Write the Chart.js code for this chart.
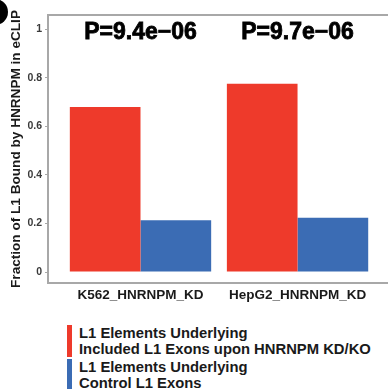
<!DOCTYPE html>
<html>
<head>
<meta charset="utf-8">
<script src="https://cdn.jsdelivr.net/npm/chart.js@4/dist/chart.umd.min.js"></script>
<style>
  html, body { margin: 0; padding: 0; background: #fff; overflow: hidden; }
  #wrap { position: relative; width: 388px; height: 389px; }
  #chart { position: absolute; left: 0; top: 0; }
  #legend { position: absolute; left: 67px; top: 325px; font: bold 14.8px "Liberation Sans", Arial, sans-serif; color: #1a1a1a; }
  .lg-item { display: flex; align-items: stretch; margin-bottom: 2px; }
  .lg-swatch { width: 5px; margin-right: 7px; }
  .lg-text { line-height: 16px; white-space: nowrap; }
</style>
</head>
<body>
<div id="wrap">
  <canvas id="chart" width="388" height="310"></canvas>
  <div id="legend"></div>
</div>
<script>
// Fraction of L1 elements bound by HNRNPM (eCLIP), two knockdowns, two exon sets.
var categories = ['K562_HNRNPM_KD', 'HepG2_HNRNPM_KD'];
var seriesNames = [
  'L1 Elements Underlying\nIncluded L1 Exons upon HNRNPM KD/KO',
  'L1 Elements Underlying\nControl L1 Exons'
];
var includedValues = [0.679, 0.775];
var controlValues = [0.213, 0.224];
var pValues = ['P=9.4e\u221206', 'P=9.7e\u221206'];
var yTickValues = [0, 0.2, 0.4, 0.6, 0.8, 1];
var yTickLabels = ['0', '0.2', '0.4', '0.6', '0.8', '1'];
var colors = ['#ee3a2b', '#3b6cb4'];

var FONT = '"Liberation Sans", Arial, sans-serif';
var AXIS_GREY = '#a8a8a8';

function toPoints(vals) {
  return vals.map(function (v, i) { return { x: i + 1, y: v }; });
}

// top border of the panel, p-value labels, and the clipped panel badge
var extras = {
  id: 'extras',
  afterDraw: function (chart) {
    var ctx = chart.ctx, a = chart.chartArea, xs = chart.scales.x;
    ctx.save();
    ctx.strokeStyle = AXIS_GREY;
    ctx.lineWidth = 2;
    ctx.beginPath();
    ctx.moveTo(a.left, a.top);
    ctx.lineTo(a.right, a.top);
    ctx.stroke();

    ctx.fillStyle = '#000';
    ctx.strokeStyle = '#000';
    ctx.lineWidth = 0.8;
    ctx.font = 'bold 23px ' + FONT;
    ctx.textAlign = 'center';
    ctx.textBaseline = 'middle';
    pValues.forEach(function (p, i) {
      var x = xs.getPixelForValue(i + 1);
      ctx.fillText(p, x, a.top + 18);
      ctx.strokeText(p, x, a.top + 18);
    });

    ctx.beginPath();
    ctx.arc(-5, 12, 13, 0, Math.PI * 2);
    ctx.fill();
    ctx.restore();
  }
};

new Chart(document.getElementById('chart'), {
  type: 'bar',
  data: {
    datasets: [
      { label: seriesNames[0], data: toPoints(includedValues), backgroundColor: colors[0], borderWidth: 0 },
      { label: seriesNames[1], data: toPoints(controlValues), backgroundColor: colors[1], borderWidth: 0 }
    ]
  },
  options: {
    responsive: false,
    animation: false,
    categoryPercentage: 0.9,
    barPercentage: 1.0,
    layout: { padding: { top: 15, left: 0, right: 0, bottom: 0 } },
    plugins: { legend: { display: false }, tooltip: { enabled: false } },
    scales: {
      x: {
        type: 'linear',
        min: 0.411,
        max: 2.576,
        offset: false,
        grid: { display: true, drawOnChartArea: false, drawTicks: false, offset: false },
        border: { display: true, color: AXIS_GREY, width: 2 },
        afterBuildTicks: function (s) { s.ticks = categories.map(function (c, i) { return { value: i + 1 }; }); },
        afterFit: function (s) { s.height = 27; },
        ticks: {
          padding: 4,
          autoSkip: false,
          maxRotation: 0,
          color: '#1a1a1a',
          font: { family: FONT, size: 13.5, weight: 'bold' },
          callback: function (v) { return categories[v - 1]; }
        }
      },
      y: {
        min: -0.045,
        max: 1.058,
        grid: { display: true, drawOnChartArea: false, drawTicks: true, tickLength: 3, color: AXIS_GREY },
        border: { display: true, color: AXIS_GREY, width: 2 },
        afterBuildTicks: function (s) { s.ticks = yTickValues.map(function (v) { return { value: v }; }); },
        afterFit: function (s) { s.width = 48; },
        ticks: {
          padding: 3,
          color: '#3a3a3a',
          font: { family: FONT, size: 10.5, weight: 'bold' },
          callback: function (v) { return yTickLabels[yTickValues.indexOf(v)]; }
        },
        title: {
          display: true,
          text: 'Fraction of L1 Bound by HNRNPM in eCLIP',
          color: '#1a1a1a',
          padding: { top: 8, bottom: 0 },
          font: { family: FONT, size: 13.6, weight: 'bold' }
        }
      }
    }
  },
  plugins: [extras]
});

// legend built from the series names and colours
var legend = document.getElementById('legend');
seriesNames.forEach(function (name, i) {
  var item = document.createElement('div');
  item.className = 'lg-item';
  var sw = document.createElement('div');
  sw.className = 'lg-swatch';
  sw.style.background = colors[i];
  var tx = document.createElement('div');
  tx.className = 'lg-text';
  tx.innerHTML = name.split('\n').join('<br>');
  item.appendChild(sw);
  item.appendChild(tx);
  legend.appendChild(item);
});
</script>
</body>
</html>
